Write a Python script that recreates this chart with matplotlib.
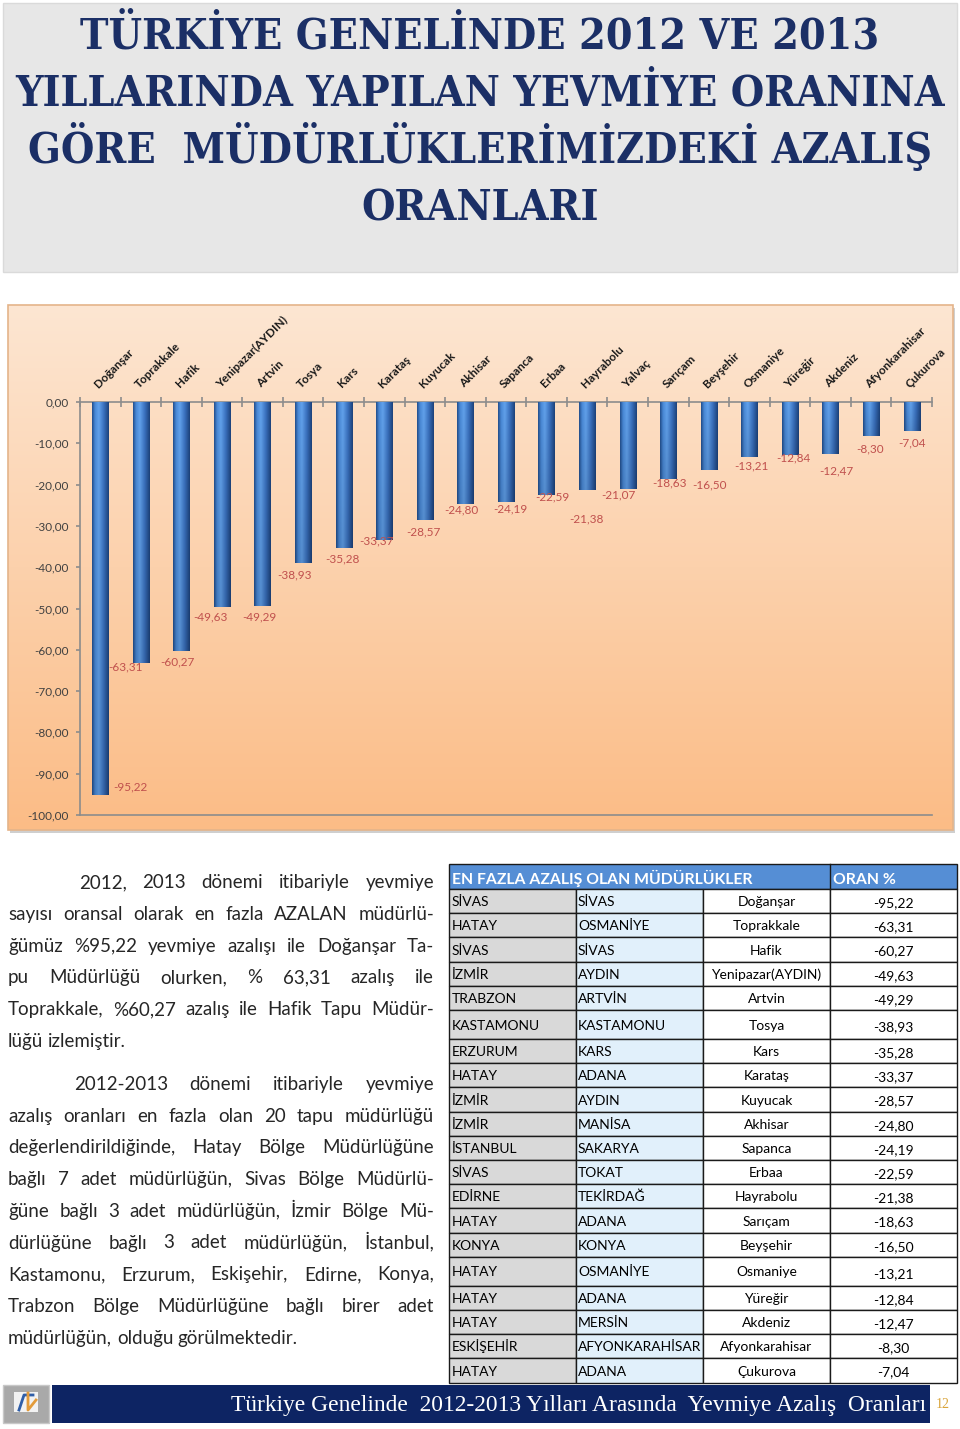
import numpy as np
import matplotlib
matplotlib.use("Agg")
import matplotlib.pyplot as plt
from matplotlib.patches import Rectangle
from matplotlib.colors import to_rgb
import matplotlib.ticker as mticker

# ---------------- data ----------------
title_lines = ["TÜRKİYE GENELİNDE 2012 VE 2013",
               "YILLARINDA YAPILAN YEVMİYE ORANINA",
               "GÖRE  MÜDÜRLÜKLERİMİZDEKİ AZALIŞ",
               "ORANLARI"]

offices = ["Doğanşar", "Toprakkale", "Hafik", "Yenipazar(AYDIN)", "Artvin", "Tosya",
           "Kars", "Karataş", "Kuyucak", "Akhisar", "Sapanca", "Erbaa", "Hayrabolu",
           "Yalvaç", "Sarıçam", "Beyşehir", "Osmaniye", "Yüreğir", "Akdeniz",
           "Afyonkarahisar", "Çukurova"]
rates = [-95.22, -63.31, -60.27, -49.63, -49.29, -38.93, -35.28, -33.37, -28.57,
         -24.80, -24.19, -22.59, -21.38, -21.07, -18.63, -16.50, -13.21, -12.84,
         -12.47, -8.30, -7.04]
yticks = [0, -10, -20, -30, -40, -50, -60, -70, -80, -90, -100]

tbl_header = ["EN FAZLA AZALIŞ OLAN MÜDÜRLÜKLER", "ORAN %"]
tbl_region = ["SİVAS", "HATAY", "SİVAS", "İZMİR", "TRABZON", "KASTAMONU", "ERZURUM",
              "HATAY", "İZMİR", "İZMİR", "İSTANBUL", "SİVAS", "EDİRNE", "HATAY",
              "KONYA", "HATAY", "HATAY", "HATAY", "ESKİŞEHİR", "HATAY"]
tbl_province = ["SİVAS", "OSMANİYE", "SİVAS", "AYDIN", "ARTVİN", "KASTAMONU", "KARS",
                "ADANA", "AYDIN", "MANİSA", "SAKARYA", "TOKAT", "TEKİRDAĞ", "ADANA",
                "KONYA", "OSMANİYE", "ADANA", "MERSİN", "AFYONKARAHİSAR", "ADANA"]
tbl_office = ["Doğanşar", "Toprakkale", "Hafik", "Yenipazar(AYDIN)", "Artvin", "Tosya",
              "Kars", "Karataş", "Kuyucak", "Akhisar", "Sapanca", "Erbaa", "Hayrabolu",
              "Sarıçam", "Beyşehir", "Osmaniye", "Yüreğir", "Akdeniz",
              "Afyonkarahisar", "Çukurova"]
tbl_rate = [-95.22, -63.31, -60.27, -49.63, -49.29, -38.93, -35.28, -33.37, -28.57,
            -24.80, -24.19, -22.59, -21.38, -18.63, -16.50, -13.21, -12.84, -12.47,
            -8.30, -7.04]

para1 = ["2012, 2013 dönemi itibariyle yevmiye",
         "sayısı oransal olarak en fazla AZALAN müdürlü-",
         "ğümüz  %95,22 yevmiye azalışı ile Doğanşar Ta-",
         "pu Müdürlüğü olurken, % 63,31 azalış ile",
         "Toprakkale, %60,27 azalış ile Hafik Tapu Müdür-",
         "lüğü izlemiştir."]
para2 = ["2012-2013 dönemi itibariyle  yevmiye",
         "azalış oranları en fazla olan 20 tapu müdürlüğü",
         "değerlendirildiğinde, Hatay Bölge Müdürlüğüne",
         "bağlı 7 adet müdürlüğün, Sivas  Bölge Müdürlü-",
         "ğüne bağlı 3 adet müdürlüğün, İzmir  Bölge Mü-",
         "dürlüğüne bağlı 3 adet müdürlüğün, İstanbul,",
         "Kastamonu, Erzurum, Eskişehir, Edirne, Konya,",
         "Trabzon  Bölge Müdürlüğüne bağlı birer adet",
         "müdürlüğün, olduğu görülmektedir."]
footer_text = "Türkiye Genelinde  2012-2013 Yılları Arasında  Yevmiye Azalış  Oranları"
page_no = "12"

# label placement offsets (pixels) relative to bar end
lbl_dx = [30, -15, -4, -12, -3, -9, -1, -8, -1, -4, 4, 6, -1, -9, 1, 1, 2, 3, 6, -1, 0]
lbl_dy = [-8, 3, 11, 10, 11, 12, 11, 1, 12, 5, 7, 2, 29, 6, 4, 15, 9, 3, 17, 13, 12]

def fmt(v):
    return f"{v:.2f}".replace(".", ",")

# ---------------- figure ----------------
W, H = 960, 1429
fig = plt.figure(figsize=(W / 100, H / 100), dpi=100)
fig.patch.set_facecolor("white")
bg = fig.add_axes([0, 0, 1, 1], zorder=0)
bg.set_xlim(0, W)
bg.set_ylim(H, 0)
bg.axis("off")
renderer = fig.canvas.get_renderer()

SANS = ["Lato", "DejaVu Sans"]

# ---- title ----
bg.add_patch(Rectangle((3, 3), 954, 269, facecolor="#e7e7e7", edgecolor="#dadada", lw=1))
title_color = "#1b2f66"
probe = bg.text(0, 0, title_lines[1], family=["DejaVu Serif"], fontstretch="condensed",
                fontweight="bold", fontsize=30)
tw = probe.get_window_extent(renderer).width
probe.remove()
tsize = 30 * 930 / tw
for line, yb in zip(title_lines, [48, 105, 163, 220]):
    bg.text(480, yb, line, family=["DejaVu Serif"], fontstretch="condensed",
            fontweight="bold", fontsize=tsize, color=title_color, ha="center", va="baseline")

# ---- chart box ----
bg.add_patch(Rectangle((10, 308), 945, 525, facecolor="#cfcfcf", edgecolor="none"))
top_c = np.array(to_rgb("#fde6d2"))
bot_c = np.array(to_rgb("#fbbc86"))
t = np.linspace(0, 1, 256)[:, None, None]
grad = top_c * (1 - t) + bot_c * t
bg.imshow(grad, extent=[8, 953, 830, 305], aspect="auto", zorder=1, interpolation="bilinear")
bg.add_patch(Rectangle((8, 305), 945, 525, facecolor="none", edgecolor="#e4b48a", lw=1.2, zorder=2))
bg.set_xlim(0, W)
bg.set_ylim(H, 0)

ax = fig.add_axes([80 / W, 1 - 815 / H, 852 / W, 413 / H], zorder=2)
ax.patch.set_alpha(0)
x = np.arange(len(rates))
bars = ax.bar(x, rates, width=0.4, color="#3a72c0", zorder=2)

stops = [0, 0.18, 0.4, 0.7, 1.0]
scol = [to_rgb(c) for c in ["#23508f", "#4a8ad8", "#62a2ec", "#3a71bf", "#1d437c"]]
nx = 40
xs = np.linspace(0, 1, nx)
hcol = np.stack([np.interp(xs, stops, [c[k] for c in scol]) for k in range(3)], axis=-1)
vf = np.linspace(1.0, 0.88, 60)[:, None, None]
bar_img = hcol[None, :, :] * vf
for b in bars:
    bx, bw, bh = b.get_x(), b.get_width(), b.get_height()
    im = ax.imshow(bar_img, extent=[bx, bx + bw, bh, 0], aspect="auto", zorder=3,
                   interpolation="bilinear")
    im.set_clip_path(b)

ax.set_xlim(-0.5, len(rates) - 0.5)
ax.set_ylim(-100, 0)

for s in ["top", "left", "bottom"]:
    ax.spines[s].set_color("#8c8c8c")
    ax.spines[s].set_linewidth(1.2)
ax.spines["right"].set_visible(False)

ax.xaxis.tick_top()
ax.set_xticks(x)
ax.set_xticklabels(offices, rotation=45, ha="left", va="bottom", rotation_mode="anchor",
                   fontweight="bold", fontsize=8.5, family=SANS, color="#1a1a1a")
ax.tick_params(axis="x", which="major", length=0, pad=9)
ax.set_xticks(np.arange(-0.5, len(rates), 1.0), minor=True)
ax.tick_params(axis="x", which="minor", direction="inout", length=7, color="#8c8c8c",
               width=1.2, top=True, bottom=False)

ax.set_yticks(yticks)
ax.yaxis.set_major_formatter(mticker.FuncFormatter(lambda v, p: fmt(v)))
ax.tick_params(axis="y", direction="out", length=3, color="#8c8c8c", width=1.2,
               labelsize=8.5, labelcolor="#404040", pad=5)
for lab in ax.get_yticklabels():
    lab.set_family(SANS)

for i, r in enumerate(rates):
    ax.annotate(fmt(r), xy=(i, r), xytext=(lbl_dx[i], -lbl_dy[i]), textcoords="offset pixels",
                ha="center", va="center", color="#c0504d", fontsize=8.5, family=SANS, zorder=4)

# ---- paragraphs (justified) ----
FS = 13.5
L, R = 8, 434
GAPMIN = 0.45

def tw_(s, size):
    tt = bg.text(0, 0, s, family=SANS, fontsize=size)
    w = tt.get_window_extent(renderer).width
    tt.remove()
    return w

def space_of(size):
    return tw_("a a", size) - tw_("aa", size)

sp = space_of(FS)
worst = 0
for lines, ind in [(para1, 79), (para2, 74)]:
    for j, line in enumerate(lines[:-1]):
        x0 = ind if j == 0 else L
        words = line.split()
        need = sum(tw_(w, FS) for w in words) + (len(words) - 1) * GAPMIN * sp
        worst = max(worst, need / (R - x0))
if worst > 1.0:
    FS = FS / worst
space_w = space_of(FS)

def draw_para(lines, indent, y0, dy):
    for j, line in enumerate(lines):
        yb = y0 + j * dy
        x0 = indent if j == 0 else L
        words = line.split()
        widths = [tw_(w, FS) for w in words]
        if j == len(lines) - 1 or len(words) == 1:
            gap = space_w
        else:
            gap = (R - x0 - sum(widths)) / (len(words) - 1)
        xx = x0
        for w, ww in zip(words, widths):
            bg.text(xx, yb, w, family=SANS, fontsize=FS, color="#262626", ha="left", va="baseline")
            xx += ww + gap

draw_para(para1, 79, 888, 31.8)
draw_para(para2, 74, 1090, 31.7)

# ---- table ----
cx = [449, 576, 703, 830, 957]
hy0, hy1 = 864, 889
bg.add_patch(Rectangle((cx[0], hy0), cx[4] - cx[0], hy1 - hy0, facecolor="#558ed5",
                       edgecolor="#1a1a1a", lw=1))
bg.plot([cx[3], cx[3]], [hy0, hy1], color="#1a1a1a", lw=1)
bg.text(cx[0] + 3, hy1 - 5, tbl_header[0], family=SANS, fontweight="bold", fontsize=11.3,
        color="white", ha="left", va="baseline")
bg.text(cx[3] + 3, hy1 - 5, tbl_header[1], family=SANS, fontweight="bold", fontsize=11.3,
        color="white", ha="left", va="baseline")
row_h = [24.2] * len(tbl_rate)
row_h[5] = 29
row_h[15] = 29
fills = ["#d9d9d9", "#e1f0fb", "white", "white"]
yy = hy1
for i in range(len(tbl_rate)):
    h = row_h[i]
    for c in range(4):
        bg.add_patch(Rectangle((cx[c], yy), cx[c + 1] - cx[c], h, facecolor=fills[c],
                               edgecolor="#1a1a1a", lw=1))
    yb = yy + h / 2 + 5
    bg.text(cx[0] + 3, yb, tbl_region[i], family=SANS, fontsize=10, color="black",
            ha="left", va="baseline")
    bg.text(cx[1] + 2, yb, tbl_province[i], family=SANS, fontsize=10, color="black",
            ha="left", va="baseline")
    bg.text((cx[2] + cx[3]) / 2, yb, tbl_office[i], family=SANS, fontsize=10, color="black",
            ha="center", va="baseline")
    bg.text((cx[3] + cx[4]) / 2, yb + (2 if h > 25 else 1), fmt(tbl_rate[i]), family=SANS,
            fontsize=10, color="black", ha="center", va="baseline")
    yy += h

# ---- footer ----
bg.add_patch(Rectangle((3, 1385), 46, 38, facecolor="#a9a9a9", edgecolor="#c8c8c8", lw=1))
bg.add_patch(Rectangle((14, 1392), 24, 20, facecolor="#f2f2f2", edgecolor="none"))
bg.plot([19, 24, 33], [1410, 1395, 1395], color="#2f5ea8", lw=2)
bg.plot([28, 28, 36], [1393, 1410, 1400], color="#e39b3a", lw=2)
bg.add_patch(Rectangle((52, 1385), 878, 38, facecolor="#0d2463", edgecolor="none"))
ft = bg.text(926, 1411, footer_text, family=["Liberation Serif", "DejaVu Serif"],
             fontsize=16, color="white", ha="right", va="baseline")
fw = ft.get_window_extent(renderer).width
ft.set_fontsize(16 * 697 / fw)
bg.text(943, 1408, page_no, family=["Liberation Serif", "DejaVu Serif"], fontsize=10,
        color="#d9a43a", ha="center", va="baseline")

fig.savefig("out.png", dpi=100)
